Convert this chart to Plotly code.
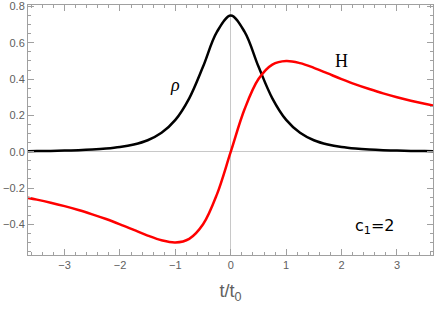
import plotly.graph_objects as go

t_vals = [-3.75, -3.5, -3.25, -3.0, -2.75, -2.5, -2.25, -2.0, -1.75, -1.5, -1.25, -1.0,
          -0.75, -0.5, -0.25, 0.0, 0.25, 0.5, 0.75, 1.0, 1.25, 1.5, 1.75, 2.0,
          2.25, 2.5, 2.75, 3.0, 3.25, 3.5, 3.75]
rho_vals = [0.0025, 0.0033, 0.0044, 0.006, 0.0083, 0.0117, 0.017, 0.0255, 0.0395, 0.063, 0.104, 0.175,
            0.294, 0.469, 0.660, 0.75, 0.660, 0.469, 0.294, 0.175, 0.104, 0.063, 0.0395, 0.0255,
            0.017, 0.0117, 0.0083, 0.006, 0.0044, 0.0033, 0.0025]
H_vals = [-0.249, -0.264, -0.281, -0.300, -0.321, -0.345, -0.371, -0.400, -0.431, -0.462, -0.488, -0.500,
          -0.480, -0.400, -0.235, 0.0, 0.235, 0.400, 0.480, 0.500, 0.488, 0.462, 0.431, 0.400,
          0.371, 0.345, 0.321, 0.300, 0.281, 0.264, 0.249]

x_ticks = [-3, -2, -1, 0, 1, 2, 3]
y_ticks = [-0.4, -0.2, 0.0, 0.2, 0.4, 0.6, 0.8]
y_tick_labels = ["\u22120.4", "\u22120.2", "0.0", "0.2", "0.4", "0.6", "0.8"]
x_tick_labels = ["\u22123", "\u22122", "\u22121", "0", "1", "2", "3"]

fig = go.Figure()
fig.add_trace(go.Scatter(x=t_vals, y=rho_vals, mode="lines",
                         line=dict(color="black", width=2.5, shape="spline"), showlegend=False))
fig.add_trace(go.Scatter(x=t_vals, y=H_vals, mode="lines",
                         line=dict(color="#ff0000", width=2.5, shape="spline"), showlegend=False))

axis_common = dict(showgrid=False, showline=True, linecolor="#a0a0a0", linewidth=1,
                   mirror="ticks", ticks="inside", ticklen=6, tickcolor="#a0a0a0",
                   zeroline=True, zerolinecolor="#c8c8c8", zerolinewidth=1, automargin=False,
                   tickfont=dict(family="Liberation Sans, Arial", size=11, color="#606060"))

fig.update_xaxes(range=[-3.66, 3.65], tickvals=x_ticks, ticktext=x_tick_labels,
                 minor=dict(dtick=0.2, ticks="inside", ticklen=3, tickcolor="#a0a0a0", showgrid=False),
                 title=dict(text="t/t<sub>0</sub>", standoff=14,
                            font=dict(family="Liberation Sans, Arial", size=18, color="#606060")),
                 **axis_common)
fig.update_yaxes(range=[-0.569, 0.808], tickvals=y_ticks, ticktext=y_tick_labels,
                 minor=dict(dtick=0.05, ticks="inside", ticklen=3, tickcolor="#a0a0a0", showgrid=False),
                 **axis_common)

fig.add_annotation(x=-1.0, y=0.37, text="<i>ρ</i>", showarrow=False,
                   font=dict(family="Liberation Serif, Times New Roman", size=18, color="black"))
fig.add_annotation(x=2.0, y=0.50, text="H", showarrow=False,
                   font=dict(family="Liberation Serif, Times New Roman", size=18, color="black"))
fig.add_annotation(x=2.6, y=-0.41, text="c<sub>1</sub>=2", showarrow=False,
                   font=dict(family="DejaVu Sans, Arial", size=16, color="black"))

fig.update_layout(width=436, height=311, margin=dict(l=28, r=3, t=5, b=56),
                  plot_bgcolor="white", paper_bgcolor="white")

fig.write_html("out.html", config={"displayModeBar": False},
               post_script="document.body.style.margin='0';document.body.style.overflow='hidden';")
